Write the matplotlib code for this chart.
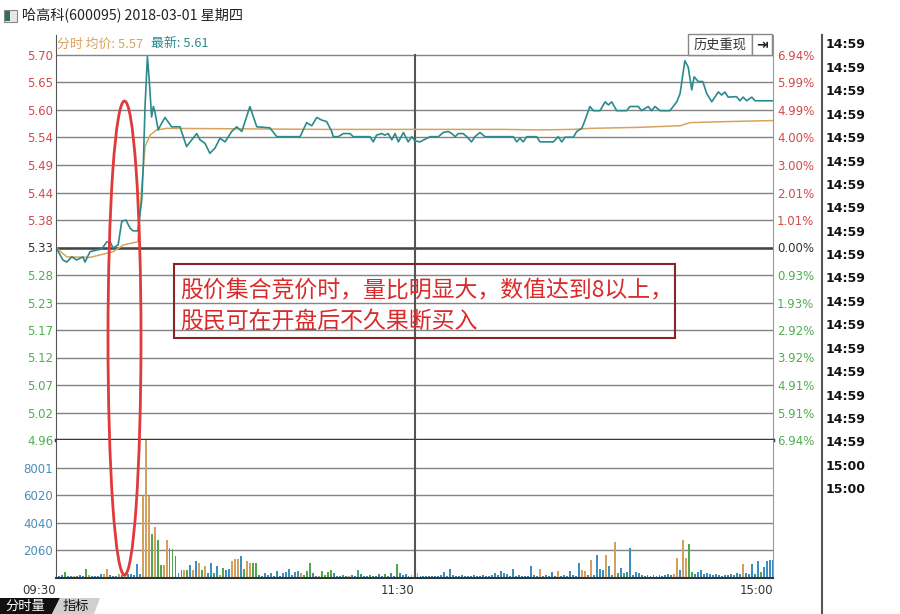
import matplotlib
matplotlib.use('Agg')
import matplotlib.pyplot as plt
import numpy as np
from matplotlib.patches import Ellipse, Rectangle, Polygon
from matplotlib.lines import Line2D

# ---- data ----
# price line (minute from 09:30, price)
price_min = [0, 2.3, 3.6, 5.3, 6.9, 9.0, 9.7, 11.4, 13.6, 15.3, 17.0, 18.1, 19.1, 20.8,
             22.0, 23.4, 24.8, 25.8, 27.4, 28.7, 29.2, 29.8, 30.6, 31.2, 32.0, 32.6,
             33.1, 34.2, 35.0, 36.5, 38.7, 41.5, 43.7, 44.9, 47.1, 48.2, 49.9, 51.5,
             53.2, 54.9, 56.6, 58.8, 60.5, 62.2, 64.9, 67.2, 71.6, 73.9, 81.7, 83.9,
             85.6, 87.3, 88.9, 90.6, 92.3, 92.8, 94.5, 96.2, 98.4, 99.5, 105.1, 106.2,
             107.3, 109.0, 110.1, 111.2, 112.4, 113.5, 114.6, 116.3, 117.9, 119.1,
             120.2, 121.8, 123.5, 125.2, 128.0, 129.6, 131.3, 132.5, 133.6, 134.7,
             136.3, 137.5, 139.1, 140.2, 141.9, 143.6, 153.1, 154.2, 155.3, 156.4,
             157.6, 160.9, 162.0, 166.5, 168.1, 169.3, 170.4, 173.2, 174.3, 176.0,
             177.1, 178.7, 179.9, 182.1, 183.8, 184.9, 186.0, 187.7, 191.0, 192.1,
             194.9, 196.0, 198.2, 199.4, 200.5, 202.2, 205.5, 207.8, 208.9, 210.5,
             211.6, 212.8, 213.6, 215.0, 216.5, 217.8, 219.5, 221.7, 222.8, 223.9,
             225.0, 227.8, 228.9, 230.0, 231.2, 232.9, 234.0, 240]
price_val = [5.330, 5.306, 5.302, 5.312, 5.306, 5.312, 5.302, 5.322, 5.325, 5.327, 5.341,
             5.341, 5.329, 5.335, 5.380, 5.383, 5.367, 5.362, 5.362, 5.421, 5.485, 5.601,
             5.697, 5.652, 5.581, 5.601, 5.591, 5.556, 5.565, 5.580, 5.562, 5.562, 5.524,
             5.533, 5.549, 5.537, 5.530, 5.511, 5.521, 5.540, 5.533, 5.553, 5.562, 5.553,
             5.601, 5.562, 5.560, 5.543, 5.543, 5.570, 5.564, 5.580, 5.575, 5.572, 5.553,
             5.543, 5.543, 5.549, 5.549, 5.543, 5.543, 5.533, 5.546, 5.549, 5.546, 5.549,
             5.537, 5.549, 5.533, 5.551, 5.533, 5.543, 5.535, 5.533, 5.538, 5.543, 5.543,
             5.551, 5.553, 5.549, 5.543, 5.549, 5.549, 5.543, 5.533, 5.543, 5.551, 5.543,
             5.543, 5.533, 5.540, 5.533, 5.543, 5.543, 5.533, 5.533, 5.543, 5.533, 5.542,
             5.542, 5.553, 5.559, 5.575, 5.601, 5.593, 5.593, 5.610, 5.604, 5.610, 5.593,
             5.593, 5.601, 5.601, 5.593, 5.601, 5.593, 5.601, 5.593, 5.593, 5.610, 5.626,
             5.689, 5.677, 5.633, 5.658, 5.649, 5.649, 5.626, 5.610, 5.629, 5.623, 5.629,
             5.619, 5.620, 5.612, 5.619, 5.612, 5.619, 5.612, 5.612]

# average price line
avg_min = [0, 3.6, 11.4, 17.0, 19.1, 22.6, 27.4, 28.7, 29.8, 31.5, 33.7, 37.1, 90, 150,
           162, 173, 178.7, 195.5, 208.9, 212.2, 224.5, 240]
avg_val = [5.330, 5.312, 5.311, 5.319, 5.322, 5.335, 5.341, 5.447, 5.524, 5.546, 5.556,
           5.559, 5.557, 5.557, 5.556, 5.557, 5.559, 5.561, 5.564, 5.570, 5.572, 5.574]

# per-minute volume (09:30 .. 15:00)
volumes = [
    440, 224, 296, 512, 224, 224, 224, 224, 296, 224,
    728, 296, 224, 224, 224, 368, 368, 728, 296, 224,
    224, 368, 296, 368, 368, 368, 296, 1088, 368, 5960,
    9950, 5960, 3250, 3750, 2800, 1000, 1000, 2800, 2200, 2150,
    1664, 440, 656, 656, 656, 1016, 656, 1304, 1160, 656,
    944, 440, 1160, 440, 944, 296, 800, 656, 728, 1304,
    1448, 1448, 1664, 728, 1304, 1160, 1160, 1160, 296, 224,
    440, 296, 440, 224, 584, 224, 440, 512, 728, 296,
    512, 584, 440, 296, 584, 1160, 440, 224, 224, 584,
    296, 512, 656, 440, 224, 224, 296, 224, 224, 296,
    224, 656, 368, 224, 224, 296, 224, 224, 368, 224,
    368, 224, 440, 224, 1088, 440, 296, 368, 224, 296,
    296, 440, 224, 224, 224, 224, 224, 224, 224, 296,
    512, 224, 728, 296, 224, 224, 296, 224, 224, 224,
    296, 224, 224, 296, 224, 224, 296, 440, 296, 584,
    440, 368, 224, 728, 224, 296, 224, 224, 224, 944,
    296, 224, 728, 224, 296, 224, 512, 224, 584, 224,
    296, 224, 584, 296, 224, 1160, 656, 584, 296, 1376,
    296, 1736, 728, 656, 1736, 944, 296, 2672, 440, 800,
    440, 512, 2240, 296, 512, 440, 296, 224, 296, 224,
    296, 224, 296, 224, 296, 368, 296, 368, 1520, 656,
    2816, 1520, 2528, 512, 368, 512, 656, 368, 440, 368,
    296, 368, 296, 224, 296, 296, 368, 296, 440, 368,
    1088, 440, 368, 1088, 368, 1304, 512, 872, 1304, 1376,
    1376]
# u = up (tan), d = down (green), f = flat (blue)
vol_dir = ("fffdffufff" "duffffuuff" "fufufffffu" "uududduudd" "ffdudfufud"
           "uffdfudffu" "uufduuddff" "ffffffffff" "ffudddffud" "dddffdffuf"
           "fdfffdffff" "dfffdffffu" "uuffffffff" "ffffffffff" "ffffffffff"
           "ffffffffff" "ffufffffuf" "ffffffuufu" "ffffuffudf" "dfffffffff"
           "fffffffuuf" "uuddffffff" "ffffffffff" "ufffffdfff" "f")

price_labels = ['4.96', '5.02', '5.07', '5.12', '5.17', '5.23', '5.28', '5.33',
                '5.38', '5.44', '5.49', '5.54', '5.60', '5.65', '5.70']
pct_labels = ['6.94%', '5.91%', '4.91%', '3.92%', '2.92%', '1.93%', '0.93%', '0.00%',
              '1.01%', '2.01%', '3.00%', '4.00%', '4.99%', '5.99%', '6.94%']
vol_ticks = [2060, 4040, 6020, 8001]
time_labels = ['09:30', '11:30', '15:00']
deal_times = ['14:59'] * 18 + ['15:00'] * 2

title = '哈高科(600095) 2018-03-01 星期四'
avg_now = 5.57
last_now = 5.61
note = '股价集合竞价时，量比明显大，数值达到8以上，\n股民可在开盘后不久果断买入'

# ---- layout helpers (pixel coords of the 900x614 picture) ----
W, H = 900, 614
def fx(x):
    return x / W
def fy(y):
    return 1 - y / H

cjk = ['Noto Sans CJK SC', 'DejaVu Sans']
red, green, black = '#d24a4a', '#4fae4f', '#333333'
tan, teal, blue = '#d6a45e', '#2a8a8c', '#4a8fb8'
dir_colors = {'u': '#d4a060', 'd': '#4fa84f', 'f': '#3d8fc0'}

fig = plt.figure(figsize=(9, 6.14), dpi=100)
fig.patch.set_facecolor('white')

# ---- price panel ----
ax = fig.add_axes([fx(56), fy(440), fx(773) - fx(56), fy(35) - fy(440)])
ax.set_xlim(0, 240)
ax.set_ylim(4.96, 4.96 + 405 * 0.74 / 385)
levels = np.linspace(4.96, 5.70, 15)
ax.set_yticks(levels)
ax.set_yticklabels(price_labels, fontsize=8.5)
for lab, lv in zip(ax.get_yticklabels(), levels):
    lab.set_color(red if lv > 5.335 else (black if lv > 5.325 else green))
ax.set_xticks([])
ax.tick_params(axis='y', length=0, pad=2)
ax.grid(axis='y', color='#848484', lw=1)
ax.axhline(5.33, color='#444444', lw=1.8)
ax.plot([120, 120], [4.96, 5.70], color='#555555', lw=1.5)
ax.spines['top'].set_visible(False)
ax.spines['left'].set_color('#555555')
ax.spines['right'].set_color('#999999')
ax.spines['bottom'].set_color('#3a3a3a')
ax.spines['bottom'].set_linewidth(2.5)
ax.plot(avg_min, avg_val, color=tan, lw=1.1)
ax.plot(price_min, price_val, color=teal, lw=1.2)

ax2 = ax.twinx()
ax2.set_ylim(ax.get_ylim())
ax2.set_yticks(levels)
ax2.set_yticklabels(pct_labels, fontsize=8.5)
for lab, lv in zip(ax2.get_yticklabels(), levels):
    lab.set_color(red if lv > 5.335 else (black if lv > 5.325 else green))
ax2.tick_params(axis='y', length=0, pad=3)
for s in ax2.spines.values():
    s.set_visible(False)

# ---- volume panel ----
vax = fig.add_axes([fx(56), fy(578), fx(773) - fx(56), fy(440) - fy(578)])
vax.bar(np.arange(len(volumes)), volumes, width=0.65,
        color=[dir_colors[c] for c in vol_dir])
vax.set_xlim(0, 240)
vax.set_ylim(80, 9981)
vax.set_yticks(vol_ticks)
vax.set_yticklabels([str(v) for v in vol_ticks], fontsize=8.5, color=blue)
vax.grid(axis='y', color='#848484', lw=1)
vax.set_axisbelow(True)
vax.axvline(120, color='#555555', lw=1.5)
vax.set_xticks([0, 120, 240])
vax.set_xticklabels(time_labels, fontsize=8.5, color=black, ha='right')
vax.tick_params(length=0, pad=4)
vax.tick_params(axis='y', pad=2)
vax.spines['top'].set_visible(False)
vax.spines['left'].set_color('#555555')
vax.spines['right'].set_color('#999999')
vax.spines['bottom'].set_color('#333333')
vax.spines['bottom'].set_linewidth(1.5)

# ---- header ----
fig.add_artist(Rectangle((fx(4), fy(22)), fx(13), 12 / H, fc='#e8e8e8', ec='#888888', lw=0.8))
fig.add_artist(Rectangle((fx(5), fy(21)), fx(5), 10 / H, fc='#2f6f5f', ec='none'))
fig.text(fx(22), fy(16), title, fontsize=10.2, color='#222222', va='center', family=cjk)
fig.text(fx(57), fy(44), f'分时 均价: {avg_now:.2f}', fontsize=9.3, color=tan,
         va='center', family=cjk)
fig.text(fx(151), fy(44), f'最新: {last_now:.2f}', fontsize=9.3, color=teal,
         va='center', family=cjk)

# history button
fig.add_artist(Rectangle((fx(688), fy(55)), fx(64), 21 / H, fc='white', ec='#888888', lw=1))
fig.add_artist(Rectangle((fx(752), fy(55)), fx(20), 21 / H, fc='white', ec='#888888', lw=1))
fig.text(fx(720), fy(45), '历史重现', fontsize=9.5, color='#333333', ha='center',
         va='center', family=cjk)
fig.text(fx(762), fy(45), '⇥', fontsize=10, color='#222222', ha='center', va='center',
         weight='bold')

# ---- deal list on the right ----
fig.add_artist(Line2D([fx(822), fx(822)], [fy(35), fy(614)], color='#555555', lw=1.5))
for i, t in enumerate(deal_times):
    fig.text(fx(826), fy(45 + i * 23.4), t, fontsize=9, weight='bold', color='#111111',
             va='center')

# ---- bottom tabs ----
fig.add_artist(Polygon([(fx(0), fy(614)), (fx(0), fy(598)), (fx(60), fy(598)),
                        (fx(52), fy(614))], closed=True, fc='#111111', ec='none'))
fig.add_artist(Polygon([(fx(52), fy(614)), (fx(60), fy(598)), (fx(100), fy(598)),
                        (fx(94), fy(614))], closed=True, fc='#cfcfcf', ec='none'))
fig.text(fx(5), fy(606), '分时量', fontsize=9.5, color='white', va='center', family=cjk)
fig.text(fx(63), fy(606), '指标', fontsize=9.5, color='#111111', va='center', family=cjk)

# ---- annotation ----
fig.add_artist(Ellipse((fx(124.5), fy(338)), fx(33), 474 / H, fill=False,
                       ec='#e03a3a', lw=2, zorder=10))
fig.add_artist(Rectangle((fx(174), fy(338)), fx(675 - 174), 74 / H, fill=False,
                         ec='#8b2525', lw=1.5, zorder=10))
fig.text(fx(180), fy(306), note, fontsize=16.5, color='#d92b2b', va='center',
         family=cjk, linespacing=1.4, zorder=11)

fig.savefig('out.png', dpi=100)
